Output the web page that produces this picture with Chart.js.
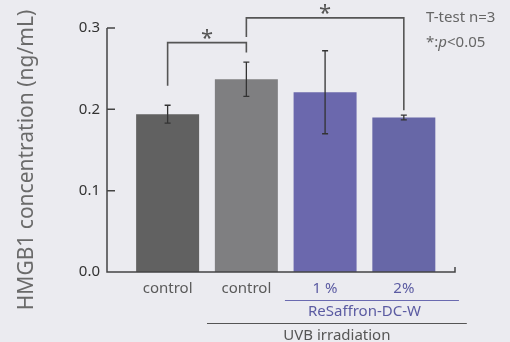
<!DOCTYPE html>
<html><head><meta charset="utf-8">
<script src="https://cdn.jsdelivr.net/npm/chart.js@4/dist/chart.umd.min.js"></script>
<style>html,body{margin:0;padding:0;background:#ebebf0;}#wrap{width:510px;height:342px;}</style>
</head><body><div id="wrap"><canvas id="c" width="510" height="342"></canvas></div>
<script>
const categories = ['control', 'control', '1 %', '2%'];
const means = [0.194, 0.237, 0.221, 0.190];
const errors = [0.011, 0.021, 0.051, 0.003];
const yTicks = [0.0, 0.1, 0.2, 0.3];
const barColors = ['#616161', '#7f7f81', '#6b68ad', '#6767a7'];
const labelColors = ['#5a5a5a', '#5a5a5a', '#5b5ba2', '#5b5ba2'];
// significance brackets: [fromIndex, toIndex, topValue, fromBottom, toBottom]
const brackets = [[0, 1, 0.282, 0.229, 0.270], [1, 3, 0.3125, 0.289, 0.199]];

const FONT = '"Noto Sans", "Open Sans", sans-serif';

const deco = {
  id: 'deco',
  afterDatasetsDraw(chart) {
    const ctx = chart.ctx, x = chart.scales.x, y = chart.scales.y, a = chart.chartArea;
    ctx.save();
    // error bars
    ctx.strokeStyle = '#333';
    ctx.lineWidth = 1.3;
    means.forEach((m, i) => {
      const px = x.getPixelForValue(i);
      const t = y.getPixelForValue(m + errors[i]), b = y.getPixelForValue(m - errors[i]);
      ctx.beginPath();
      ctx.moveTo(px, t); ctx.lineTo(px, b);
      ctx.moveTo(px - 3, t); ctx.lineTo(px + 3, t);
      ctx.moveTo(px - 3, b); ctx.lineTo(px + 3, b);
      ctx.stroke();
    });
    // axes
    ctx.strokeStyle = '#444';
    ctx.lineWidth = 1.5;
    ctx.beginPath();
    ctx.moveTo(a.left, y.getPixelForValue(0.3));
    ctx.lineTo(a.left, a.bottom);
    ctx.lineTo(a.right, a.bottom);
    ctx.lineTo(a.right, a.bottom - 5);
    yTicks.forEach(v => {
      const py = y.getPixelForValue(v);
      ctx.moveTo(a.left, py); ctx.lineTo(a.left + 8, py);
    });
    ctx.stroke();
    // brackets
    ctx.strokeStyle = '#555';
    ctx.lineWidth = 1.6;
    ctx.fillStyle = '#555';
    ctx.font = '22px ' + FONT;
    ctx.textAlign = 'center';
    ctx.textBaseline = 'middle';
    brackets.forEach(([f, t, top, fb, tb]) => {
      const x1 = x.getPixelForValue(f), x2 = x.getPixelForValue(t);
      const yt = y.getPixelForValue(top);
      ctx.beginPath();
      ctx.moveTo(x1, y.getPixelForValue(fb));
      ctx.lineTo(x1, yt);
      ctx.lineTo(x2, yt);
      ctx.lineTo(x2, y.getPixelForValue(tb));
      ctx.stroke();
      ctx.fillText('*', (x1 + x2) / 2, yt - 4);
    });
    // group lines & labels
    ctx.lineWidth = 1.2;
    ctx.strokeStyle = '#6a6ab0';
    ctx.beginPath();
    ctx.moveTo(x.getPixelForValue(1.49), 300.5);
    ctx.lineTo(x.getPixelForValue(3.70), 300.5);
    ctx.stroke();
    ctx.strokeStyle = '#555';
    ctx.beginPath();
    ctx.moveTo(x.getPixelForValue(0.50), 323.5);
    ctx.lineTo(x.getPixelForValue(3.80), 323.5);
    ctx.stroke();
    ctx.font = '15px ' + FONT;
    ctx.fillStyle = '#5b5ba2';
    ctx.fillText('ReSaffron-DC-W', x.getPixelForValue(2.5), 312);
    ctx.fillStyle = '#555';
    ctx.fillText('UVB irradiation', x.getPixelForValue(2.15), 336);
    // note
    ctx.textAlign = 'left';
    ctx.font = '15px ' + FONT;
    ctx.fillStyle = '#666';
    ctx.fillText('T-test n=3', 426, 18);
    ctx.fillText('*:', 426, 43);
    const w = ctx.measureText('*:').width;
    ctx.font = 'italic 15px ' + FONT;
    ctx.fillText('p', 426 + w, 43);
    const w2 = ctx.measureText('p').width;
    ctx.font = '15px ' + FONT;
    ctx.fillText('<0.05', 426 + w + w2, 43);
    // y title
    ctx.save();
    ctx.translate(27, 160);
    ctx.rotate(-Math.PI / 2);
    ctx.font = '21px ' + FONT;
    ctx.fillStyle = '#6a6a6a';
    ctx.textAlign = 'center';
    ctx.fillText('HMGB1 concentration (ng/mL)', 0, 0);
    ctx.restore();
    ctx.restore();
  }
};

new Chart(document.getElementById('c'), {
  type: 'bar',
  data: {
    datasets: [{
      data: means.map((v, i) => ({ x: i, y: v })),
      backgroundColor: barColors,
      borderWidth: 0,
      barPercentage: 0.8,
      categoryPercentage: 1.0
    }]
  },
  options: {
    responsive: false,
    animation: false,
    events: [],
    layout: { padding: { top: 28, right: 55, left: 0, bottom: 0 } },
    plugins: { legend: { display: false }, tooltip: { enabled: false } },
    scales: {
      x: {
        type: 'linear',
        min: -0.77, max: 3.65,
        offset: false,
        grid: { display: false, drawTicks: false, offset: false },
        border: { display: false },
        afterFit(s) { s.height = 70; },
        afterBuildTicks(s) { s.ticks = categories.map((c, i) => ({ value: i })); },
        ticks: {
          autoSkip: false,
          maxRotation: 0,
          padding: 8,
          font: { family: FONT, size: 15 },
          color: (c) => labelColors[c.index],
          callback: (v, i) => categories[i]
        }
      },
      y: {
        min: 0, max: 0.3,
        grid: { display: false, drawTicks: false },
        border: { display: false },
        afterFit(s) { s.width = 107; },
        afterBuildTicks(s) { s.ticks = yTicks.map(v => ({ value: v })); },
        ticks: {
          padding: 7,
          font: { family: FONT, size: 15 },
          color: '#333',
          callback: (v) => v.toFixed(1)
        }
      }
    }
  },
  plugins: [deco]
});
</script></body></html>
